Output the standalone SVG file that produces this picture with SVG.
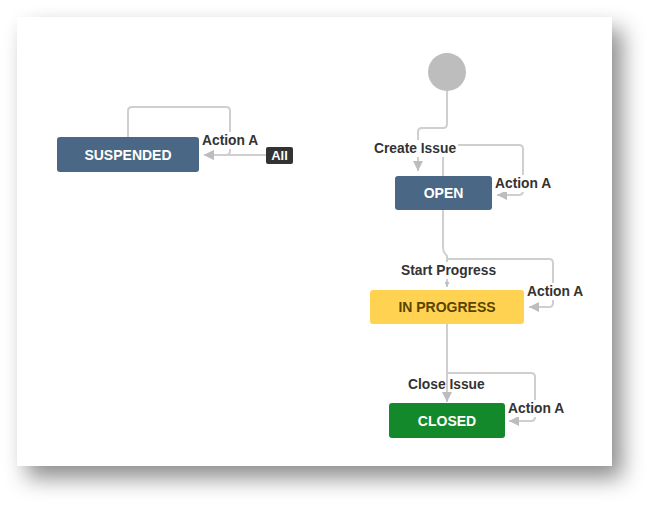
<svg xmlns="http://www.w3.org/2000/svg" width="660" height="515" viewBox="0 0 660 515">
<style>
.card{fill:#fff}
.node-text{font-family:"Liberation Sans",Arial,sans-serif;font-weight:bold;font-size:14px;text-anchor:middle}
.lbl{font-family:"Liberation Sans",Arial,sans-serif;font-weight:bold;font-size:13.8px;fill:#333}
.lbg{fill:#fff}
.edge{fill:none;stroke:#cfcfcf;stroke-width:2}
</style>
<defs>
<filter id="sh" x="-10%" y="-10%" width="125%" height="130%">
<feDropShadow dx="10" dy="12" stdDeviation="11" flood-color="#000" flood-opacity="0.45"/>
</filter>
<marker id="ah" viewBox="0 0 10 10" refX="10" refY="5" markerWidth="10" markerHeight="10" markerUnits="userSpaceOnUse" orient="auto">
<path d="M0,0 L10,5 L0,10 Z" fill="#bdbdbd"/>
</marker>
<marker id="ahs" viewBox="0 0 10 10" refX="10" refY="5" markerWidth="5" markerHeight="5" markerUnits="userSpaceOnUse" orient="auto">
<path d="M0,0 L10,5 L0,10 Z" fill="#bdbdbd"/>
</marker>
</defs>
<rect width="660" height="515" fill="#fff"/>
<rect class="card" x="17" y="17" width="595" height="449" filter="url(#sh)"/>

<g id="connectors">
<path class="edge" d="M447,91 V124 Q447,128 443,128 H422 Q418,128 418,132 V171" marker-end="url(#ah)"/>
<path class="edge" d="M443,176 V149 Q443,145 447,145 H519 Q523,145 523,149 V191 Q523,195 519,195 H497" marker-end="url(#ah)"/>
<path class="edge" d="M443,210 V248 Q443,252 447,256 V287" marker-end="url(#ahs)"/>
<path class="edge" d="M447,259 H549 Q553,259 553,263 V303 Q553,307 549,307 H529" marker-end="url(#ah)"/>
<path class="edge" d="M447,324 V402" marker-end="url(#ah)"/>
<path class="edge" d="M447,373 H531 Q535,373 535,377 V417 Q535,421 531,421 H509" marker-end="url(#ah)"/>
<path class="edge" d="M128,137 V111 Q128,107 132,107 H226 Q230,107 230,111 V151 Q230,155 226,155 H204" marker-end="url(#ah)"/>
<path class="edge" d="M266,155 H204" marker-end="url(#ah)"/>
</g>

<g id="labels">
<rect class="lbg" x="372" y="140" width="86" height="17"/>
<text class="lbl" x="374" y="153">Create Issue</text>
<rect class="lbg" x="493" y="175" width="60" height="17"/>
<text class="lbl" x="495" y="188">Action A</text>
<rect class="lbg" x="399" y="262" width="96" height="17"/>
<text class="lbl" x="401" y="275">Start Progress</text>
<rect class="lbg" x="525" y="283" width="60" height="17"/>
<text class="lbl" x="527" y="296">Action A</text>
<text class="lbl" x="408" y="389">Close Issue</text>
<rect class="lbg" x="506" y="400" width="60" height="17"/>
<text class="lbl" x="508" y="413">Action A</text>
<rect class="lbg" x="200" y="132" width="60" height="17"/>
<text class="lbl" x="202" y="145">Action A</text>
</g>

<g id="start">
<circle cx="447" cy="72" r="19" fill="#bdbdbd"/>
</g>

<g id="suspended">
<rect x="57" y="137" width="142" height="35" rx="3" fill="#4a6785"/>
<text class="node-text" x="128" y="160" fill="#fff">SUSPENDED</text>
</g>

<g id="all-badge">
<rect x="266" y="147" width="27" height="17" rx="2" fill="#333"/>
<text class="node-text" x="279.5" y="160" fill="#fff" style="font-size:13px">All</text>
</g>

<g id="open">
<rect x="395" y="176" width="97" height="34" rx="3" fill="#4a6785"/>
<text class="node-text" x="443.5" y="198" fill="#fff">OPEN</text>
</g>

<g id="in-progress">
<rect x="370" y="290" width="154" height="34" rx="3" fill="#ffd351"/>
<text class="node-text" x="447" y="312" fill="#594300">IN PROGRESS</text>
</g>

<g id="closed">
<rect x="389" y="403" width="116" height="35" rx="3" fill="#14892c"/>
<text class="node-text" x="447" y="426" fill="#fff">CLOSED</text>
</g>
</svg>
